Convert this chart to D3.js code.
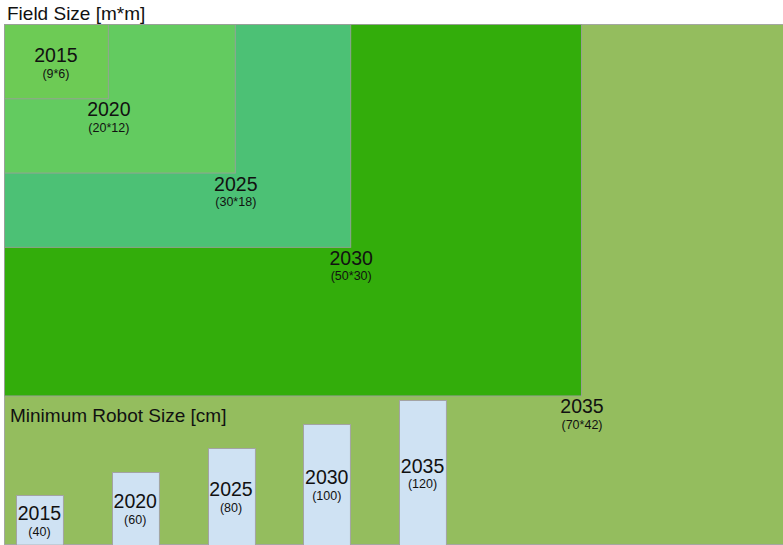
<!DOCTYPE html>
<html>
<head>
<meta charset="utf-8">
<script src="https://cdn.jsdelivr.net/npm/d3@7"></script>
<style>
  html, body { margin: 0; padding: 0; background: #fff; }
  svg { display: block; font-family: "Liberation Sans", Arial, sans-serif; }
</style>
</head>
<body>
<svg id="chart" width="783" height="545"></svg>
<script>
// ---- data ----
const fieldYears  = ["2015", "2020", "2025", "2030", "2035"];
const fieldWidth  = [9, 20, 30, 50, 70];   // metres
const fieldHeight = [6, 12, 18, 30, 42];   // metres
const fieldColors = ["#6dcb55", "#63cb60", "#4cc175", "#33ad0b", "#94bd5e"];

const robotYears  = ["2015", "2020", "2025", "2030", "2035"];
const robotSize   = [40, 60, 80, 100, 120]; // cm

const fieldTitle = "Field Size [m*m]";
const robotTitle = "Minimum Robot Size [cm]";

// ---- chart ----
const W = 783, H = 545;
const svg = d3.select("#chart");

const xF = d3.scaleLinear().domain([0, 50]).range([4, 581]);
const yF = d3.scaleLinear().domain([0, 42]).range([24, 544]);

const fields = fieldYears.map((y, i) => ({
  year: y, w: fieldWidth[i], h: fieldHeight[i], color: fieldColors[i], i
}));

const clip = svg.append("defs").append("clipPath").attr("id", "clipArea")
  .append("rect").attr("x", 0).attr("y", 0).attr("width", W).attr("height", H);

const gF = svg.append("g").attr("clip-path", "url(#clipArea)");

// draw largest first
gF.selectAll("rect.field")
  .data(fields.slice().reverse())
  .join("rect")
  .attr("class", "field")
  .attr("x", d => xF(0) + 0.5)
  .attr("y", d => yF(0) + 0.5)
  .attr("width", d => xF(d.w) - xF(0))
  .attr("height", d => yF(d.h) - yF(0))
  .attr("fill", d => d.color)
  .attr("stroke", "#9e9e9e")
  .attr("stroke-opacity", 0.85)
  .attr("stroke-width", 1);

// field labels
function labelPos(d) {
  if (d.i === 0) {
    return { x: xF(d.w / 2), y: yF(d.h / 2) + 1 };
  }
  const p = fields[d.i - 1];
  return { x: xF(p.w) + 1, y: yF(p.h) + 18 };
}

const fl = gF.selectAll("g.flabel")
  .data(fields)
  .join("g")
  .attr("class", "flabel")
  .attr("transform", d => { const p = labelPos(d); return `translate(${p.x},${p.y})`; });

fl.append("text")
  .attr("text-anchor", "middle")
  .attr("font-size", 19.5)
  .attr("fill", "#111")
  .text(d => d.year);
fl.append("text")
  .attr("text-anchor", "middle")
  .attr("y", 15.5)
  .attr("font-size", 12.5)
  .attr("fill", "#111")
  .text(d => `(${d.w}*${d.h})`);

// field title
svg.append("text")
  .attr("x", 7).attr("y", 20)
  .attr("font-size", 19)
  .attr("fill", "#111")
  .text(fieldTitle);

// ---- robot bars ----
const baseY = yF(42) - 1;
const xR = d3.scaleBand().domain(robotYears).range([16, 446]).paddingInner(0.51).paddingOuter(0);
const hR = d3.scaleLinear().domain([0, 120]).range([0, 143]);

const robots = robotYears.map((y, i) => ({ year: y, v: robotSize[i] }));

svg.append("text")
  .attr("x", 10).attr("y", 422)
  .attr("font-size", 19)
  .attr("fill", "#111")
  .text(robotTitle);

svg.selectAll("rect.robot")
  .data(robots)
  .join("rect")
  .attr("class", "robot")
  .attr("x", d => Math.round(xR(d.year)) + 0.5)
  .attr("y", d => Math.round(baseY - hR(d.v)) + 0.5)
  .attr("width", xR.bandwidth())
  .attr("height", d => hR(d.v) + 2)
  .attr("fill", "#cfe2f3")
  .attr("stroke", "#a3a3a3")
  .attr("stroke-width", 1);

const rl = svg.selectAll("g.rlabel")
  .data(robots)
  .join("g")
  .attr("class", "rlabel")
  .attr("transform", d => `translate(${xR(d.year) + xR.bandwidth() / 2},${baseY - hR(d.v) / 2 + 1})`);

rl.append("text")
  .attr("text-anchor", "middle")
  .attr("font-size", 19.5)
  .attr("fill", "#111")
  .text(d => d.year);
rl.append("text")
  .attr("text-anchor", "middle")
  .attr("y", 15.5)
  .attr("font-size", 12.5)
  .attr("fill", "#111")
  .text(d => `(${d.v})`);
</script>
</body>
</html>
